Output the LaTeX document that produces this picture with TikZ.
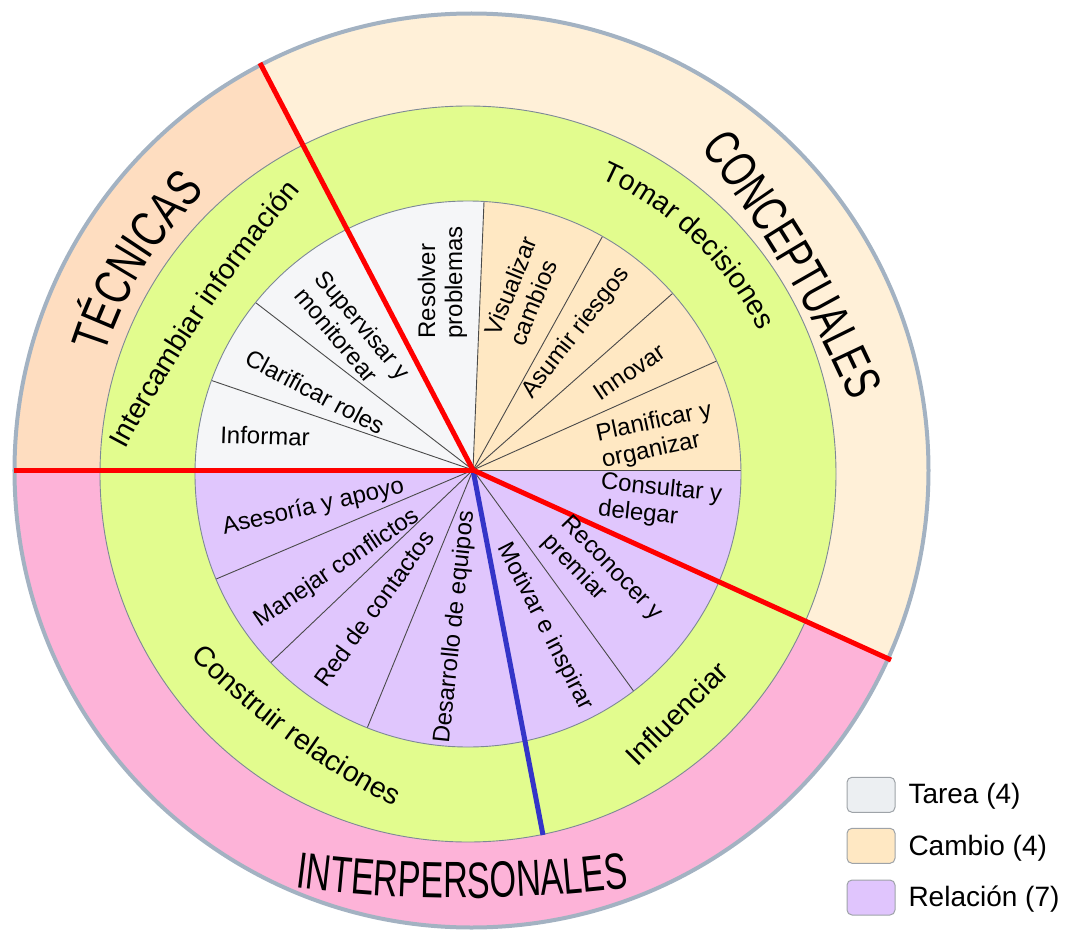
\documentclass[tikz,border=0pt]{standalone}
\usepackage{fontspec}
\setmainfont{Liberation Sans}
\newfontfamily\tecfont[FakeStretch=0.75]{Liberation Sans}
\newfontfamily\confont[FakeStretch=0.71]{Liberation Sans}
\newfontfamily\intfont[FakeStretch=0.67]{Liberation Sans}
\usetikzlibrary{calc,decorations.text}

\definecolor{tecfill}{HTML}{FEDDC0}
\definecolor{confill}{HTML}{FFF0D8}
\definecolor{intfill}{HTML}{FDB3D8}
\definecolor{ringgreen}{HTML}{E2FC8E}
\definecolor{tareafill}{HTML}{F5F6F8}
\definecolor{cambiofill}{HTML}{FFE8C3}
\definecolor{relfill}{HTML}{E0C6FD}
\definecolor{rimgray}{HTML}{A3B2C2}
\definecolor{edgegray}{HTML}{7D8896}
\definecolor{seggray}{HTML}{4A4A4A}
\definecolor{cutred}{HTML}{FF0000}
\definecolor{cutblue}{HTML}{3434C8}
\definecolor{legtarea}{HTML}{ECEFF2}
\definecolor{legcambio}{HTML}{FFE8C3}
\definecolor{legrel}{HTML}{E0C5FD}
\definecolor{legedge}{HTML}{9EA3A8}

\newcommand\fseg{\fontsize{24}{27}\selectfont}
\newcommand\fring{\fontsize{28.5}{32}\selectfont}
\newcommand\fleg{\fontsize{28}{31}\selectfont}
\newcommand\ftec{\tecfont\fontsize{51}{55}\selectfont}
\newcommand\fcon{\confont\fontsize{51}{55}\selectfont}
\newcommand\fint{\intfont\fontsize{51}{55}\selectfont}

% text bent along an arc; letters stand on the convex side
% #1 baseline midpoint, #2 reading direction there, #3 bend radius, #4 half span (deg), #5 text
\newcommand\archout[5]{%
  \path[decorate,decoration={text along path,text align=center,text={#5}}]
    ($(#1)+({#2-90}:#3)+({#2+90+#4}:#3)$)
    arc[start angle={#2+90+#4},end angle={#2+90-#4},radius=#3];}
% same, with the letters hanging on the concave side
\newcommand\archin[5]{%
  \path[decorate,decoration={text along path,text align=center,text={#5}}]
    ($(#1)+({#2+90}:#3)+({#2-90-#4}:#3)$)
    arc[start angle={#2-90-#4},end angle={#2-90+#4},radius=#3];}

\begin{document}
\begin{tikzpicture}[x=1pt,y=1pt,
  seglbl/.style={font=\fseg,align=left,inner sep=0pt},
  ringlbl/.style={font=\fring,inner sep=0pt},
  segline/.style={draw=seggray,line width=0.9pt},
  ringedge/.style={draw=edgegray,line width=0.9pt},
  redcut/.style={draw=cutred,line width=5pt},
  bluecut/.style={draw=cutblue,line width=5pt},
  legbox/.style={draw=legedge,line width=1pt,rounded corners=5pt,
    minimum width=48pt,minimum height=35pt,inner sep=0pt},
  legtext/.style={font=\fleg,inner sep=0pt,anchor=base west}]

\useasboundingbox (-473,-460) rectangle (592,470);
\coordinate (hub) at (0,0);
\coordinate (outerC) at (-1.5,-0.5);
\coordinate (innerC) at (-5,-4);

% outer ring: three skill families
\begin{scope}
  \clip (outerC) circle[radius=457];
  \fill[confill] (hub) -- (-24.4:520) arc[start angle=-24.4,end angle=117.6,radius=520] -- cycle;
  \fill[tecfill] (hub) -- (117.6:520) arc[start angle=117.6,end angle=180,radius=520] -- cycle;
  \fill[intfill] (hub) -- (180:520) arc[start angle=180,end angle=335.6,radius=520] -- cycle;
\end{scope}
\draw[rimgray,line width=4pt] (outerC) circle[radius=457];

% middle ring
\fill[ringgreen] (innerC) circle[radius=368];
\draw[ringedge] (innerC) circle[radius=368];

% inner pie of behaviours
\begin{scope}
  \clip (innerC) circle[radius=273];
  \fill[cambiofill] (hub) -- (0:300) arc[start angle=0,end angle=87.65,radius=300] -- cycle;
  \fill[tareafill] (hub) -- (87.65:300) arc[start angle=87.65,end angle=180,radius=300] -- cycle;
  \fill[relfill] (hub) -- (180:300) arc[start angle=180,end angle=360,radius=300] -- cycle;
  \foreach \a in {0,24.1,41.5,61,87.65,117.6,142.4,161.1,203,223.6,247.7,280.9,306,335.6}
    \draw[segline] (hub) -- (\a:300);
\end{scope}
\draw[ringedge] (innerC) circle[radius=273];

% dividing lines
\coordinate (cutNW) at (-213,407);
\coordinate (cutW) at (-459,0);
\coordinate (cutSE) at (418,-190);
\coordinate (cutS) at (70,-365);
\draw[bluecut] (hub) -- (cutS);
\draw[redcut] (hub) -- (cutNW);
\draw[redcut] (hub) -- (cutW);
\draw[redcut] (hub) -- (cutSE);

% inner labels
\node[seglbl,rotate=-2] (lInformar) at (-208,34) {Informar};
\node[seglbl,rotate=-28] (lClarificar) at (-158,78) {Clarificar roles};
\node[seglbl,rotate=-50] (lSupervisar) at (-120,136.6) {Supervisar y\\monitorear};
\node[seglbl,rotate=90] (lResolver) at (-30.5,187.5) {Resolver\\problemas};
\node[seglbl,rotate=68] (lVisualizar) at (50,179) {Visualizar\\cambios};
\node[seglbl,rotate=52] (lAsumir) at (103,137) {Asumir riesgos};
\node[seglbl,rotate=34] (lInnovar) at (156,98) {Innovar};
\node[seglbl,rotate=12] (lPlanificar) at (184,34) {Planificar y\\organizar};
\node[seglbl,rotate=-6] (lConsultar) at (187,-32.5) {Consultar y\\delegar};
\node[seglbl,rotate=-46] (lReconocer) at (129,-108) {Reconocer y\\premiar};
\node[seglbl,rotate=-63] (lMotivar) at (72,-156.7) {Motivar e inspirar};
\node[seglbl,rotate=84] (lDesarrollo) at (-18,-157) {Desarrollo de equipos};
\node[seglbl,rotate=54] (lRed) at (-99,-138.3) {Red de contactos};
\node[seglbl,rotate=34] (lManejar) at (-135.7,-98.3) {Manejar conflictos};
\node[seglbl,rotate=13] (lAsesoria) at (-159.7,-37.3) {Asesoría y apoyo};

% middle ring labels
\coordinate (bInter) at (-267,154.5);
\archout{bInter}{56}{1500}{9}{|\fring|Intercambiar información}
\coordinate (bTomar) at (220.1,229.1);
\archout{bTomar}{-44}{324}{28}{|\fring|Tomar decisiones}
\coordinate (bConst) at (-186.7,-269.7);
\archin{bConst}{-36.4}{800}{12}{|\fring|Construir relaciones}
\node[ringlbl,rotate=45] (lInfluenciar) at (203.6,-243.3) {Influenciar};

% outer ring labels
\coordinate (bTec) at (148.2:386);
\archout{bTec}{58.2}{386}{22}{|\ftec|TÉCNICAS}
\coordinate (bCon) at (310.6,200.3);
\archout{bCon}{-59.4}{1200}{10}{|\fcon|CONCEPTUALES}
\coordinate (bInt) at (-11,-428);
\archin{bInt}{0}{1300}{10}{|\fint|INTERPERSONALES}

% legend
\node[legbox,fill=legtarea] (kTarea) at (398,-324.8) {};
\node[legbox,fill=legcambio] (kCambio) at (398,-375.8) {};
\node[legbox,fill=legrel] (kRel) at (398,-427.5) {};
\node[legtext] (tTarea) at (435.3,-333.3) {Tarea (4)};
\node[legtext] (tCambio) at (435.3,-385) {Cambio (4)};
\node[legtext] (tRel) at (435.3,-436.7) {Relación (7)};
\end{tikzpicture}
\end{document}
